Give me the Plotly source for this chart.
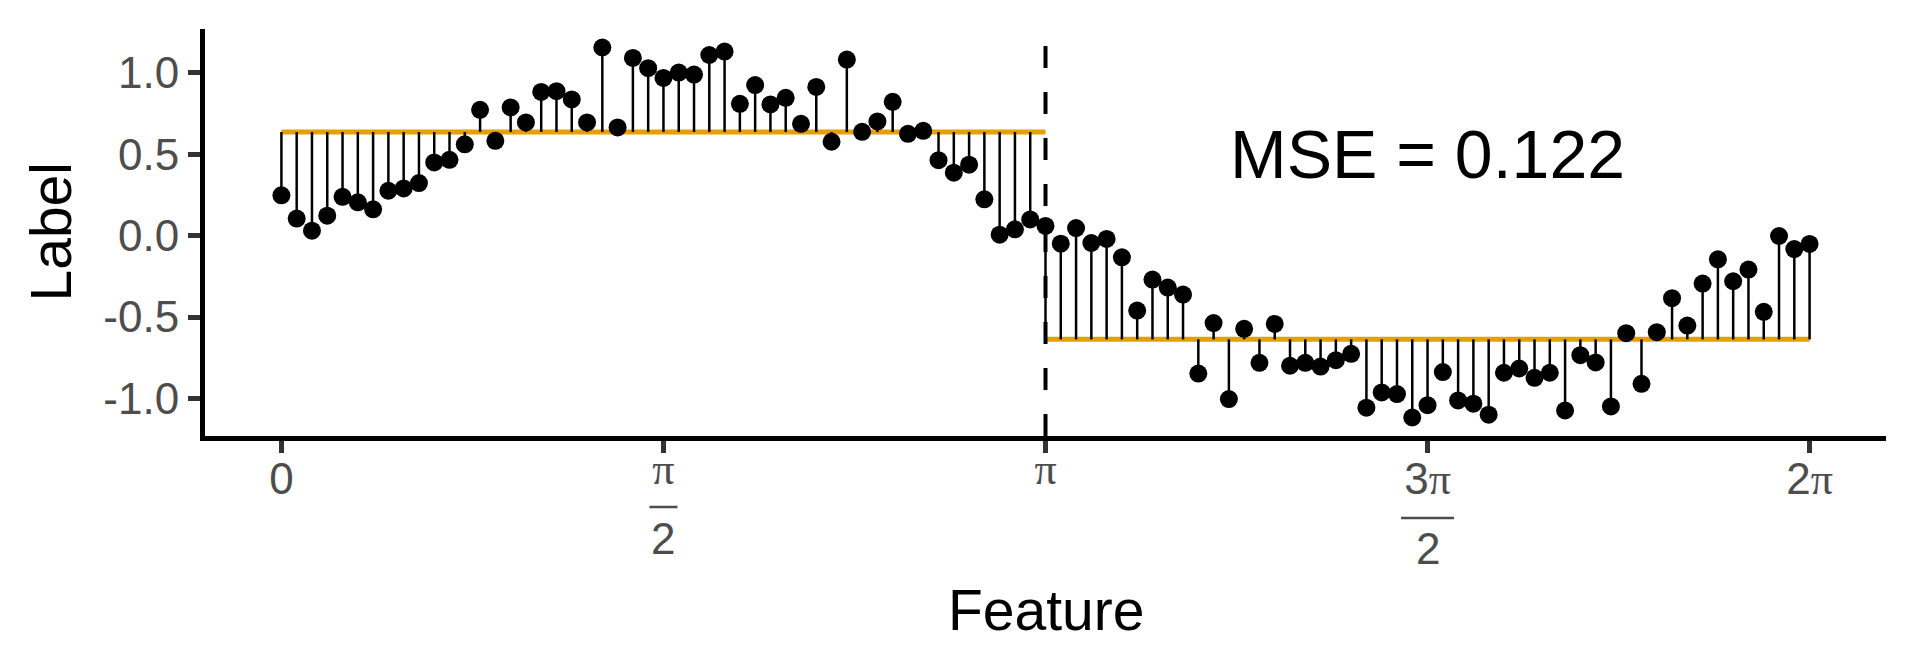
import numpy as np
import plotly.graph_objects as go

# ---------------- data ----------------
n_points = 101
feature = np.linspace(0, 2 * np.pi, n_points)
label = [
    0.248, 0.105, 0.031, 0.123, 0.239, 0.205, 0.162, 0.276, 0.290, 0.323,
    0.450, 0.466, 0.561, 0.773, 0.583, 0.788, 0.696, 0.883, 0.888, 0.837,
    0.696, 1.156, 0.665, 1.092, 1.029, 0.969, 1.002, 0.990, 1.110, 1.131,
    0.810, 0.925, 0.806, 0.847, 0.687, 0.914, 0.577, 1.082, 0.638, 0.702,
    0.822, 0.626, 0.644, 0.464, 0.387, 0.436, 0.223, 0.006, 0.039, 0.100,
    0.060, -0.049, 0.047, -0.045, -0.020, -0.133, -0.460, -0.270, -0.319, -0.362,
    -0.847, -0.537, -1.004, -0.572, -0.781, -0.542, -0.799, -0.781, -0.804, -0.765,
    -0.726, -1.057, -0.963, -0.973, -1.117, -1.041, -0.838, -1.012, -1.032, -1.100,
    -0.842, -0.816, -0.873, -0.842, -1.074, -0.734, -0.779, -1.049, -0.599, -0.910,
    -0.593, -0.384, -0.552, -0.294, -0.145, -0.280, -0.208, -0.468, -0.002, -0.082,
    -0.051,
]
split_point = np.pi
left_level = 0.637
right_level = -0.637
mse_value = 0.122

y_tick_vals = [-1.0, -0.5, 0.0, 0.5, 1.0]
y_tick_text = ["-1.0", "-0.5", "0.0", "0.5", "1.0"]
x_tick_vals = [0, np.pi / 2, np.pi, 3 * np.pi / 2, 2 * np.pi]
x_tick_numer = ["0", "π", "π", "3π", "2π"]
x_tick_denom = [None, "2", None, "2", None]

# ---------------- derived ----------------
label = np.array(label)
fitted = np.where(feature >= split_point - 1e-9, right_level, left_level)

stem_x, stem_y = [], []
for xv, yv, fv in zip(feature, label, fitted):
    stem_x += [xv, xv, None]
    stem_y += [yv, fv, None]

x_min, x_max = feature.min(), feature.max()
y_min, y_max = label.min(), label.max()
x_pad = 0.05 * (x_max - x_min)
y_pad = 0.05 * (y_max - y_min)

ORANGE = "#E69F00"
FONT = "Liberation Sans"
TICK_COLOR = "#4D4D4D"
PI_SPAN = "<span style='font-family:Liberation Serif'>π</span>"


def pi_span(s):
    if s == "π":  # a lone pi is top-aligned like in plotmath, so it sits higher
        return "<span style='font-family:Liberation Serif;baseline-shift:10px'>π</span>"
    return s.replace("π", PI_SPAN)


x_tick_text = [pi_span(n) for n in x_tick_numer]

fig = go.Figure()
fig.add_trace(go.Scatter(
    x=[x_min, split_point, None, split_point, x_max],
    y=[left_level, left_level, None, right_level, right_level],
    mode="lines", line=dict(color=ORANGE, width=5), hoverinfo="skip",
))
fig.add_trace(go.Scatter(
    x=stem_x, y=stem_y, mode="lines",
    line=dict(color="black", width=2.5), hoverinfo="skip",
))
fig.add_trace(go.Scatter(
    x=feature, y=label, mode="markers",
    marker=dict(color="black", size=18, line=dict(width=0)),
))

fig.add_shape(type="line", xref="x", yref="paper", x0=split_point, x1=split_point,
              y0=0, y1=1, line=dict(color="black", width=4, dash="22px,24px"))

# fraction bar + denominator under the numerator tick labels
for tv, num, den in zip(x_tick_vals, x_tick_numer, x_tick_denom):
    if den is None:
        continue
    single = len(num) == 1
    half_bar = 14 if single else 26.5
    bar_off = -71 if single else -82
    fig.add_shape(
        type="line", xref="x", yref="paper",
        xsizemode="pixel", xanchor=tv, x0=-half_bar, x1=half_bar,
        ysizemode="pixel", yanchor=0, y0=bar_off, y1=bar_off,
        line=dict(color=TICK_COLOR, width=2.5),
    )
    fig.add_annotation(
        x=tv, y=0, xref="x", yref="paper", yanchor="top", xanchor="center",
        yshift=-76 if single else -86,
        text=den, showarrow=False,
        font=dict(family=FONT, size=44, color=TICK_COLOR),
    )

fig.add_annotation(x=3 * np.pi / 2, y=0.5, xref="x", yref="y",
                   text=f"MSE = {mse_value:.3f}", showarrow=False,
                   font=dict(family=FONT, size=68, color="black"))
fig.add_annotation(x=0.5, y=-0.4275, xref="paper", yref="paper",
                   text="Feature", showarrow=False, yanchor="middle",
                   font=dict(family=FONT, size=57, color="black"))
fig.add_annotation(x=-0.0922, y=0.5, xref="paper", yref="paper",
                   text="Label", showarrow=False, textangle=-90,
                   xanchor="center", yanchor="middle",
                   font=dict(family=FONT, size=57, color="black"))

axis_common = dict(
    showline=True, linecolor="black", linewidth=5,
    ticks="outside", ticklen=12, tickwidth=5, tickcolor="#333333",
    tickfont=dict(family=FONT, size=44, color=TICK_COLOR),
    showgrid=False, zeroline=False, automargin=False,
)
fig.update_xaxes(range=[x_min - x_pad, x_max + x_pad], tickmode="array",
                 tickvals=x_tick_vals, ticktext=x_tick_text,
                 ticklabelstandoff=-12, **axis_common)
fig.update_yaxes(range=[y_min - y_pad, y_max + y_pad], tickmode="array",
                 tickvals=y_tick_vals, ticktext=y_tick_text, **axis_common)

fig.update_layout(
    width=1920, height=672,
    margin=dict(l=205, r=34, t=29, b=236),
    plot_bgcolor="white", paper_bgcolor="white",
    showlegend=False,
    font=dict(family=FONT),
)

fig.write_html("out.html", config={"displayModeBar": False},
               post_script="document.body.style.margin='0';")
